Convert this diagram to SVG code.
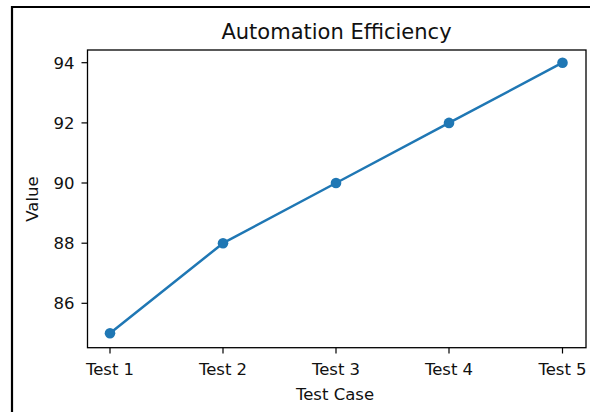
<svg xmlns="http://www.w3.org/2000/svg" width="590" height="412" viewBox="0 0 590 412">
  <style>
    .tick { stroke: #000; stroke-width: 1.2; }
    .spine { fill: none; stroke: #000; stroke-width: 1.3; }
    .lbl { font-family: "DejaVu Sans", sans-serif; font-size: 16.5px; fill: #111; }
    .title { font-family: "DejaVu Sans", sans-serif; font-size: 21px; fill: #111; }
    .series { fill: none; stroke: #1f77b4; stroke-width: 2.5; stroke-linejoin: round; }
    .pt { fill: #1f77b4; }
  </style>
  <rect width="590" height="412" fill="#fff"/>
  <!-- frame edges -->
  <line x1="12" y1="7" x2="590" y2="7" stroke="#000" stroke-width="2.2"/>
  <line x1="12" y1="6" x2="12" y2="412" stroke="#000" stroke-width="2.2"/>

  <text class="title" x="336.5" y="38.5" text-anchor="middle">Automation Efficiency</text>

  <g id="axes">
    <rect class="spine" x="87.5" y="50" width="498.5" height="297.7"/>
    <!-- y ticks -->
    <g>
      <line class="tick" x1="81.5" y1="303.3" x2="87.5" y2="303.3"/>
      <line class="tick" x1="81.5" y1="243.2" x2="87.5" y2="243.2"/>
      <line class="tick" x1="81.5" y1="183.0" x2="87.5" y2="183.0"/>
      <line class="tick" x1="81.5" y1="122.9" x2="87.5" y2="122.9"/>
      <line class="tick" x1="81.5" y1="62.7" x2="87.5" y2="62.7"/>
    </g>
    <g class="lbl" text-anchor="end">
      <text x="74.5" y="309.3">86</text>
      <text x="74.5" y="249.2">88</text>
      <text x="74.5" y="189">90</text>
      <text x="74.5" y="128.9">92</text>
      <text x="74.5" y="68.7">94</text>
    </g>
    <!-- x ticks -->
    <g>
      <line class="tick" x1="110" y1="347.7" x2="110" y2="353.5"/>
      <line class="tick" x1="223" y1="347.7" x2="223" y2="353.5"/>
      <line class="tick" x1="336" y1="347.7" x2="336" y2="353.5"/>
      <line class="tick" x1="449" y1="347.7" x2="449" y2="353.5"/>
      <line class="tick" x1="562.5" y1="347.7" x2="562.5" y2="353.5"/>
    </g>
    <g class="lbl" text-anchor="middle">
      <text x="110" y="374.5">Test 1</text>
      <text x="223" y="374.5">Test 2</text>
      <text x="336" y="374.5">Test 3</text>
      <text x="449" y="374.5">Test 4</text>
      <text x="562.5" y="374.5">Test 5</text>
    </g>
    <text class="lbl" x="335" y="400" text-anchor="middle">Test Case</text>
    <text class="lbl" transform="translate(38 199) rotate(-90)" text-anchor="middle">Value</text>
  </g>

  <g id="series">
    <polyline class="series" points="110,333.3 223,243.2 336,183.0 449,122.9 562.5,62.7"/>
    <circle class="pt" cx="110" cy="333.3" r="5.3"/>
    <circle class="pt" cx="223" cy="243.2" r="5.3"/>
    <circle class="pt" cx="336" cy="183.0" r="5.3"/>
    <circle class="pt" cx="449" cy="122.9" r="5.3"/>
    <circle class="pt" cx="562.5" cy="62.7" r="5.3"/>
  </g>
</svg>
